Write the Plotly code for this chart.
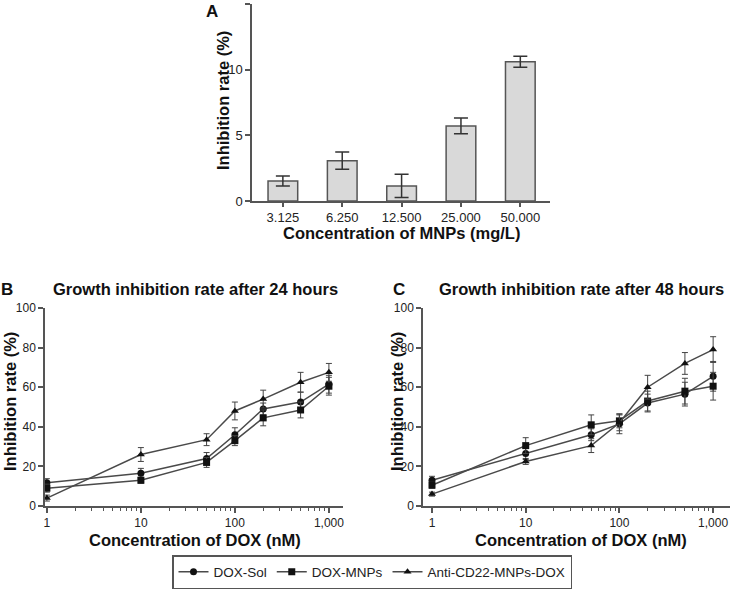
import plotly.graph_objects as go

# panel A - MNPs alone
mnp_conc = ["3.125", "6.250", "12.500", "25.000", "50.000"]
mnp_rate = [1.52, 3.07, 1.15, 5.72, 10.6]
mnp_err = [0.38, 0.66, 0.88, 0.6, 0.42]

# panels B and C - DOX formulations
dox_conc = [1, 10, 50, 100, 200, 500, 1000]

sol_24 = [11.8, 16.5, 24, 36, 49, 52.5, 61.5]
sol_24_err = [2, 2.5, 3, 3.5, 3, 5, 4.5]
mnps_24 = [9, 13, 22, 33, 44.5, 48.5, 60.5]
mnps_24_err = [2, 1.5, 2.5, 2.5, 4, 4, 4.5]
anti_24 = [4, 26, 33.5, 48, 54, 62.5, 67.5]
anti_24_err = [1.5, 3.5, 3, 4.5, 4.5, 5, 4.5]

sol_48 = [13, 26.5, 36, 41.5, 52, 56.5, 65.5]
sol_48_err = [2, 3, 3, 5, 4.5, 6, 7.5]
mnps_48 = [10.5, 30.5, 41, 43, 53, 58, 60.5]
mnps_48_err = [1.5, 4, 5, 3.5, 5, 6.5, 7]
anti_48 = [6, 22.5, 30.5, 42, 60, 72, 79]
anti_48_err = [1, 1.5, 3.5, 4, 6, 5.5, 6.5]

series_names = ["DOX-Sol", "DOX-MNPs", "Anti-CD22-MNPs-DOX"]
symbols = ["circle", "square", "triangle-up"]

FONT = "Liberation Sans, Arial, sans-serif"
AX = "#555555"
LINE = "#4a4a4a"

W, H = 730, 591

def px(x):
    return x / W

def py(y):
    return 1 - y / H

fig = go.Figure()

fig.add_trace(go.Bar(
    x=mnp_conc, y=mnp_rate,
    error_y=dict(type="data", array=mnp_err, color="#333333", thickness=1.5, width=7),
    marker=dict(color="#d9d9d9", line=dict(color="#555555", width=1.5)),
    width=0.5, showlegend=False, xaxis="x", yaxis="y",
))

panels = [
    ("x2", "y2", [sol_24, mnps_24, anti_24], [sol_24_err, mnps_24_err, anti_24_err], True),
    ("x3", "y3", [sol_48, mnps_48, anti_48], [sol_48_err, mnps_48_err, anti_48_err], False),
]
for xa, ya, vals, errs, show in panels:
    for name, sym, v, e in zip(series_names, symbols, vals, errs):
        fig.add_trace(go.Scatter(
            x=dox_conc, y=v, name=name, mode="lines+markers",
            line=dict(color=LINE, width=1.5),
            marker=dict(symbol=sym, size=7, color="#111111"),
            error_y=dict(type="data", array=e, color="#444444", thickness=1, width=3),
            showlegend=show, xaxis=xa, yaxis=ya,
        ))

tickfont = dict(family=FONT, size=12, color="#222222")

minor_vals = [m * 10 ** d for d in range(3) for m in range(2, 10)]

def log_x(x0, x1, rng, anchor):
    return dict(
        domain=[px(x0), min(px(x1), 1)], anchor=anchor, type="log", range=rng, automargin=False,
        tickvals=[1, 10, 100, 1000], ticktext=["1", "10", "100", "1,000"],
        ticks="outside", ticklen=5, tickcolor=AX, tickwidth=1.5,
        minor=dict(tickvals=minor_vals, ticks="outside", ticklen=3, tickcolor=AX, tickwidth=1),
        showline=True, linecolor=AX, linewidth=1.5, showgrid=False, zeroline=False,
        tickfont=tickfont,
    )

def lin_y(y0, y1, anchor, rng, dtick, size=12):
    return dict(
        domain=[py(y1), min(py(y0), 1)], anchor=anchor, range=rng, dtick=dtick, automargin=False,
        ticks="outside", ticklen=5, tickcolor=AX, tickwidth=1.5,
        showline=True, linecolor=AX, linewidth=1.5, showgrid=False, zeroline=False,
        tickfont=dict(tickfont, size=size),
    )

def note(text, x, y, size, angle=0):
    return dict(text=text, x=px(x), y=py(y), xref="paper", yref="paper",
                xanchor="center", yanchor="middle", showarrow=False, textangle=angle,
                font=dict(family=FONT, size=size, color="#111111"))

fig.update_layout(
    width=W, height=H,
    margin=dict(l=0, r=0, t=0, b=0),
    paper_bgcolor="white", plot_bgcolor="white",
    font=dict(family=FONT, color="#222222"),
    xaxis=dict(
        domain=[px(252), px(550)], anchor="y", range=[-0.52, 4.5], automargin=False,
        ticks="outside", ticklen=4, tickcolor=AX, tickwidth=1.5,
        showline=True, linecolor=AX, linewidth=1.5, showgrid=False,
        tickfont=dict(tickfont, size=13),
    ),
    yaxis=lin_y(4, 201, "x", [0, 15], 5, size=13),
    xaxis2=log_x(45, 343, [-0.02, 3.15], "y2"),
    yaxis2=lin_y(308, 506, "x2", [0, 100], 20),
    xaxis3=log_x(423, 730, [-0.096, 3.18], "y3"),
    yaxis3=lin_y(308, 506, "x3", [0, 100], 20),
    legend=dict(
        orientation="h", x=px(372), xanchor="center", y=py(589), yanchor="bottom",
        bordercolor="#555555", borderwidth=1.5,
        font=dict(family=FONT, size=13.5, color="#222222"),
        itemwidth=30,
    ),
    annotations=[
        note("<b>A</b>", 212, 12, 17),
        note("<b>B</b>", 7, 289, 17),
        note("<b>C</b>", 399, 289, 17),
        note("<b>Growth inhibition rate after 24 hours</b>", 195, 289, 16.5),
        note("<b>Growth inhibition rate after 48 hours</b>", 581, 289, 16.5),
        note("<b>Inhibition rate (%)</b>", 223, 101, 16.5, -90),
        note("<b>Inhibition rate (%)</b>", 10, 402, 16.5, -90),
        note("<b>Inhibition rate (%)</b>", 397, 402, 16.5, -90),
        note("<b>Concentration of MNPs (mg/L)</b>", 402, 233, 16.5),
        note("<b>Concentration of DOX (nM)</b>", 195, 540, 16.5),
        note("<b>Concentration of DOX (nM)</b>", 581, 540, 16.5),
    ],
)

# drop the default 8px body margin so the figure fills the window
fig.write_html("out.html", config={"displayModeBar": False},
               post_script="document.body.style.margin = '0';")
